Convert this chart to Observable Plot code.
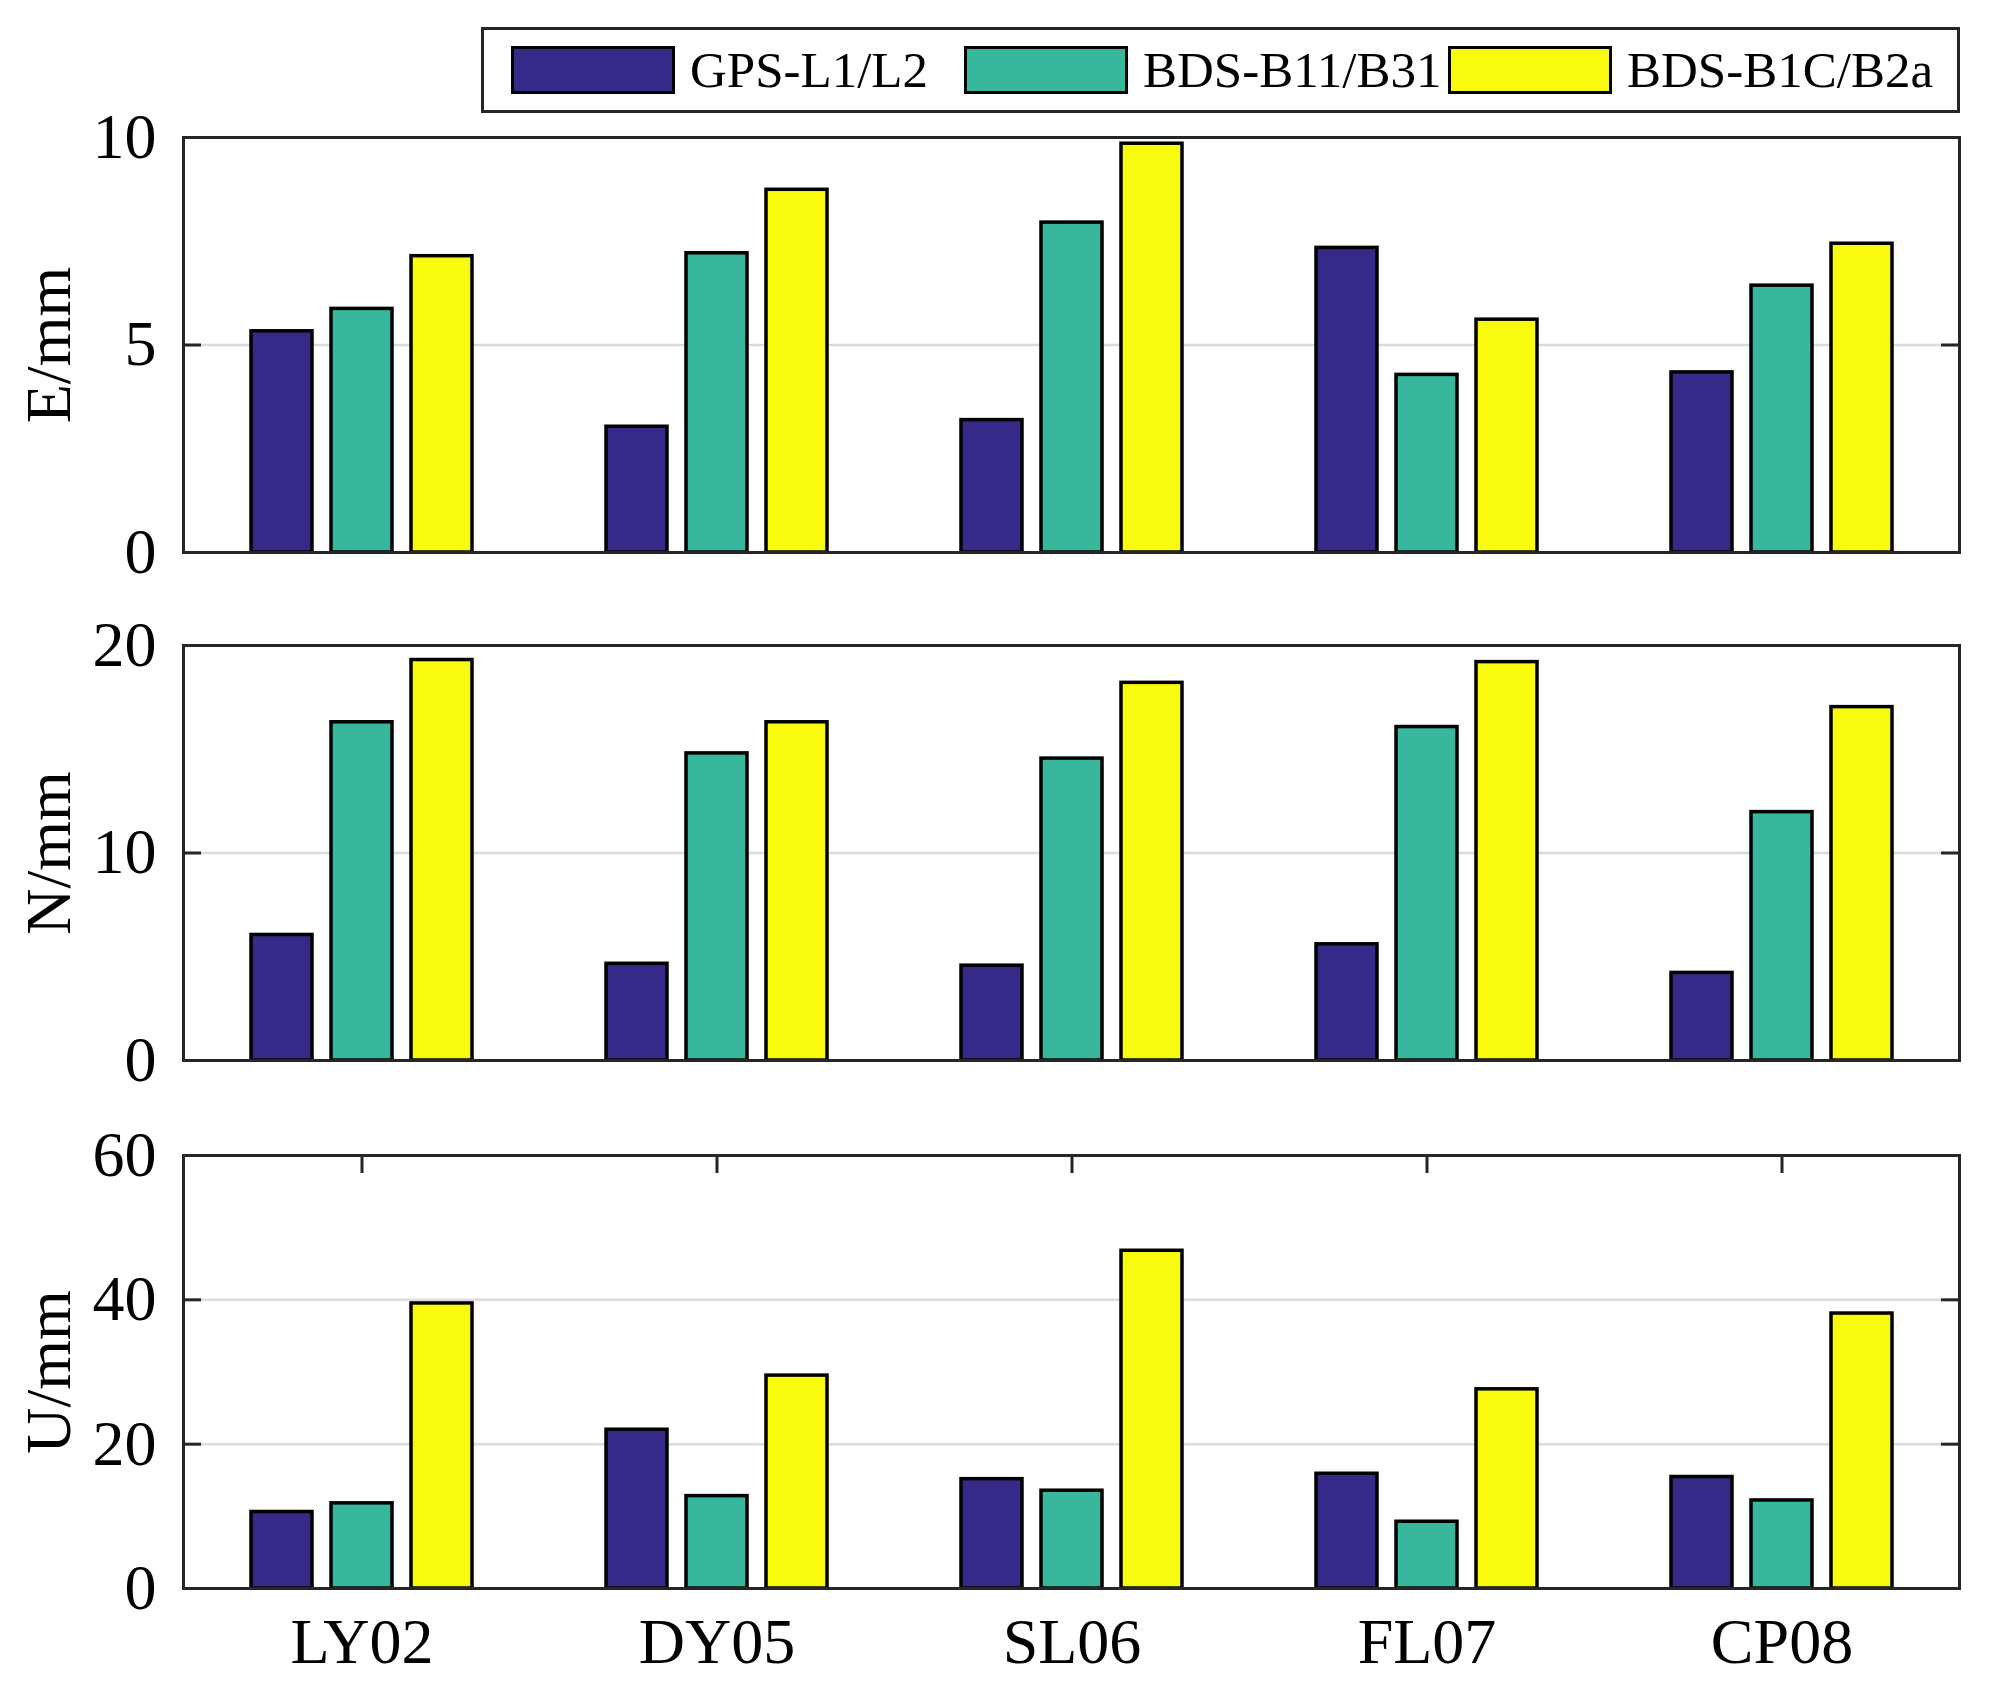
<!DOCTYPE html>
<html>
<head>
<meta charset="utf-8">
<script src="https://cdn.jsdelivr.net/npm/d3@7"></script>
<script src="https://cdn.jsdelivr.net/npm/@observablehq/plot@0.6"></script>
<style>
  html, body { margin: 0; padding: 0; background: #fff; }
  #page { position: relative; width: 1999px; height: 1686px; background: #fff; font-family: "Liberation Serif", "Times New Roman", serif; }
  .panel { position: absolute; left: 0; }
  #legend { position: absolute; left: 481px; top: 27px; width: 1473px; height: 80px; border: 3px solid #262626; background: #fff; }
  .item { position: absolute; top: 0; height: 80px; display: flex; align-items: center; }
  .sw { width: 158px; height: 42px; border: 3px solid #000; margin-right: 15px; }
  .lt { font-size: 51px; color: #000; line-height: 1; }
</style>
</head>
<body>
<div id="page">
  <div id="legend"></div>
</div>
<script>
// ---- data ----
const stations = ["LY02", "DY05", "SL06", "FL07", "CP08"];
const seriesNames = ["GPS-L1/L2", "BDS-B11/B31", "BDS-B1C/B2a"];
const seriesColors = ["#352a87", "#37b89d", "#f9fb0e"];

const E_GPS = [5.33, 3.03, 3.19, 7.34, 4.34];
const E_B11 = [5.87, 7.21, 7.95, 4.28, 6.43];
const E_B1C = [7.14, 8.74, 9.85, 5.61, 7.44];

const N_GPS = [6.05, 4.66, 4.57, 5.60, 4.22];
const N_B11 = [16.30, 14.80, 14.55, 16.07, 11.97];
const N_B1C = [19.30, 16.30, 18.20, 19.20, 17.03];

const U_GPS = [10.6, 22.0, 15.15, 15.9, 15.45];
const U_B11 = [11.8, 12.8, 13.55, 9.25, 12.2];
const U_B1C = [39.5, 29.5, 46.8, 27.6, 38.1];

const eTicks = [0, 5, 10];
const nTicks = [0, 10, 20];
const uTicks = [0, 20, 40, 60];
const yLabels = ["E/mm", "N/mm", "U/mm"];

// ---- layout ----
const W = 1999, ML = 183, MR = 40;
const FW = W - ML - MR;
const FONT = "Liberation Serif, Times New Roman, serif";
const AX = "#262626";
const offsets = [-80, 0, 80];

const rows = (vals) => stations.map((s, i) => ({station: s, value: vals[i]}));

function panel({top, height, mt, mb, ticks, label, series, showX}) {
  const FH = height - mt - mb;
  const inner = ticks.slice(1, -1);
  const marks = [
    Plot.gridY(inner, {stroke: "#dcdcdc", strokeOpacity: 1, strokeWidth: 2.5}),
    ...series.map((vals, k) => Plot.barY(rows(vals), {
      x: "station", y: "value", fill: seriesColors[k], stroke: "#000", strokeWidth: 3.5,
      insetLeft: 147, insetRight: 147, dx: offsets[k]
    })),
    Plot.ruleY(inner, {y: d => d, insetRight: FW - 18, stroke: AX, strokeWidth: 3}),
    Plot.ruleY(inner, {y: d => d, insetLeft: FW - 18, stroke: AX, strokeWidth: 3}),
    Plot.frame({stroke: AX, strokeWidth: 3}),
    Plot.axisY({ticks, tickSize: 0, tickPadding: 27, fontSize: 64, fontFamily: FONT, label: null, fill: "#000"}),
    Plot.text([label], {text: d => d, frameAnchor: "left", textAnchor: "middle", lineAnchor: "middle", rotate: -90, dx: -134, fontSize: 64, fontFamily: FONT, fill: "#000"})
  ];
  if (showX) {
    marks.push(Plot.ruleX(stations, {x: d => d, insetBottom: FH - 18, stroke: AX, strokeWidth: 3}));
    marks.push(Plot.axisX({tickSize: 0, tickPadding: 29, fontSize: 64, fontFamily: FONT, label: null, fill: "#000"}));
  }
  const svg = Plot.plot({
    width: W, height,
    marginLeft: ML, marginRight: MR, marginTop: mt, marginBottom: mb,
    style: {background: "transparent", overflow: "visible"},
    x: {domain: stations, padding: 0, axis: showX ? undefined : null},
    y: {domain: [ticks[0], ticks[ticks.length - 1]]},
    marks
  });
  const div = document.createElement("div");
  div.className = "panel";
  div.style.top = top + "px";
  div.appendChild(svg);
  document.getElementById("page").appendChild(div);
}

panel({top: 95, height: 500, mt: 42, mb: 43, ticks: eTicks, label: yLabels[0], series: [E_GPS, E_B11, E_B1C], showX: false});
panel({top: 600, height: 505, mt: 45, mb: 45, ticks: nTicks, label: yLabels[1], series: [N_GPS, N_B11, N_B1C], showX: false});
panel({top: 1110, height: 576, mt: 45, mb: 98, ticks: uTicks, label: yLabels[2], series: [U_GPS, U_B11, U_B1C], showX: true});

// ---- legend ----
const legend = document.getElementById("legend");
const itemLeft = [27, 480, 964];
seriesNames.forEach((name, k) => {
  const it = document.createElement("div");
  it.className = "item";
  it.style.left = itemLeft[k] + "px";
  const sw = document.createElement("div");
  sw.className = "sw";
  sw.style.background = seriesColors[k];
  const t = document.createElement("span");
  t.className = "lt";
  t.textContent = name;
  it.appendChild(sw);
  it.appendChild(t);
  legend.appendChild(it);
});
</script>
</body>
</html>
